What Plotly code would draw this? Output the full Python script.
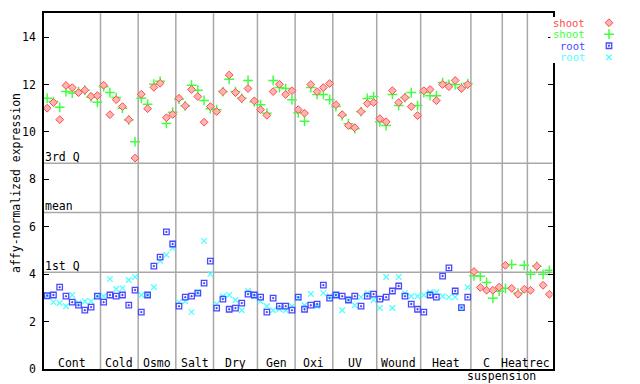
import plotly.graph_objects as go

# ---- data ----
groups = ["Cont", "Cold", "Osmo", "Salt", "Dry", "Gen", "Oxi", "UV", "Wound", "Heat", "C", "Heat", "rec"]
group_sizes = [9, 6, 6, 6, 7, 6, 6, 7, 7, 8, 5, 4, 4]
sub_label = "suspension"

shoot_red = [11.0, 11.24, 10.52, 11.96, 11.87, 11.66, 11.76, 11.5, 11.53,
             11.97, 10.73, 11.36, 11.07, 10.52, 8.9,
             11.59, 10.98, 11.88, 12.05, 10.6, 10.74,
             11.42, 11.1, 11.79, 11.49, 10.41, 11.07,
             10.86, 11.7, 12.4, 11.66, 11.41, 11.83, 11.31,
             10.94, 10.7, 11.7, 12.01, 11.58, 11.74,
             10.94, 10.79, 12.0, 11.7, 11.87, 12.04,
             11.15, 10.73, 10.27, 10.18, 10.86, 11.2, 11.24,
             10.56, 10.43, 11.74, 11.24, 11.45, 11.07, 10.69,
             11.74, 11.79, 11.32, 12.0, 11.91, 12.17, 11.83, 12.0,
             4.12, 3.45, 3.33, 3.33, 3.46,
             4.38, 3.41, 3.16, 3.37,
             3.33, 4.34, 3.54, 3.16]

shoot_green = [11.42, 11.28, 11.04, 11.7, 11.64, 11.7, 11.76, 11.46, 11.25,
               11.91, 11.66, 11.45, 11.0, 10.5, 9.59,
               11.42, 11.17, 12.01, 12.14, 10.36, 10.83,
               11.38, 11.1, 11.97, 11.76, 11.33, 10.98,
               10.94, 11.7, 12.22, 11.7, 11.42, 12.17, 11.27,
               11.15, 10.79, 12.17, 11.87, 11.83, 11.36,
               10.81, 10.45, 11.87, 11.58, 11.58, 11.36,
               11.07, 10.69, 10.35, 10.14, 10.86, 11.41, 11.49,
               10.43, 10.27, 11.58, 11.11, 11.45, 11.66, 11.11,
               11.66, 11.53, 11.53, 12.08, 12.0, 12.0, 11.87, 12.04,
               3.94, 3.92, 3.66, 2.99, 3.29,
               3.41, 4.42, 3.21, 4.38,
               4.0, 4.34, 4.0, 4.17]

root_blue = [3.10, 3.13, 3.46, 3.08, 2.83, 2.70, 2.49, 2.62, 3.08,
             2.83, 3.13, 3.08, 3.13, 2.70, 3.34,
             2.41, 3.13, 4.35, 4.73, 5.79, 5.28,
             2.66, 3.04, 3.08, 3.21, 3.63, 4.56,
             2.58, 2.96, 2.53, 2.58, 2.79, 3.17, 3.13,
             3.04, 2.41, 3.0, 2.66, 2.66, 2.49,
             3.04, 2.53, 2.70, 2.75, 3.55, 3.0,
             3.13, 3.08, 2.92, 3.08, 2.66, 3.08, 3.17,
             2.96, 3.04, 3.30, 3.51, 3.08, 2.75, 2.53,
             2.41, 3.13, 3.04, 3.93, 4.27, 3.30, 2.60, 3.04]

root_cyan = [3.13, 2.83, 2.79, 2.66, 3.13, 2.79, 2.87, 2.87, 3.08,
             3.08, 3.80, 3.38, 3.42, 3.76, 3.89,
             3.13, 3.13, 3.46, 4.56, 4.82, 5.11,
             2.83, 2.87, 2.41, 3.25, 5.41, 4.01,
             2.75, 3.08, 3.13, 2.92, 2.49, 3.30, 3.08,
             2.87, 2.66, 2.49, 2.53, 2.49, 2.66,
             3.0, 2.70, 3.17, 2.66, 3.21, 3.08,
             3.13, 2.49, 2.92, 2.70, 3.04, 3.21, 2.92,
             2.58, 3.89, 2.58, 3.89, 3.21, 3.08, 3.08,
             3.13, 3.25, 3.25, 3.08, 3.04, 3.04, 2.60, 3.46]

ref_names = ["3rd Q", "mean", "1st Q"]
ref_values = [8.68, 6.61, 4.09]

y_ticks = [0, 2, 4, 6, 8, 10, 12, 14]

series_names = ["shoot", "shoot", "root", "root"]
series_colors = ["#ff4a4a", "#40ff40", "#4848ff", "#50ffff"]

# ---- figure ----
FONT = "DejaVu Sans Mono"
OFF = 8  # default page body margin in the browser
W, H = 640 - OFF, 384 - OFF
px0, px1, py_top, py_bot = 44 - OFF, 552.5 - OFF, 13.3 - OFF, 369.3 - OFF

n = sum(group_sizes)
xs_shoot = [i + 0.5 for i in range(len(shoot_red))]
xs_root = [i + 0.5 for i in range(len(root_blue))]

fig = go.Figure()

marker_styles = [
    dict(symbol="diamond", size=6, color="#ffb4b4", line=dict(color=series_colors[0], width=1)),
    dict(symbol="cross-thin", size=7, color=series_colors[1], line=dict(color=series_colors[1], width=1.5)),
    dict(symbol="square-open-dot", size=5.5, color=series_colors[2], line=dict(color=series_colors[2], width=1.3)),
    dict(symbol="x-thin", size=5.5, color=series_colors[3], line=dict(color=series_colors[3], width=1.3)),
]
series_vals = [shoot_red, shoot_green, root_blue, root_cyan]
series_x = [xs_shoot, xs_shoot, xs_root, xs_root]

for k in [3, 2, 1, 0]:
    fig.add_trace(go.Scatter(x=series_x[k], y=series_vals[k], mode="markers",
                             marker=marker_styles[k], showlegend=False,
                             hoverinfo="skip", xaxis="x", yaxis="y"))

lx0 = 550.4 - OFF
for k in range(4):
    fig.add_trace(go.Scatter(x=[0.654], y=[3.5 - k], mode="markers",
                             marker=marker_styles[k], showlegend=False,
                             hoverinfo="skip", xaxis="x2", yaxis="y2"))

shapes = []
cum = 0
for s in group_sizes[:-1]:
    cum += s
    shapes.append(dict(type="line", xref="x", yref="y domain", x0=cum, x1=cum, y0=0, y1=1,
                       line=dict(color="#a8a8a8", width=1.5), layer="below"))
for v in ref_values:
    shapes.append(dict(type="line", xref="x domain", yref="y", x0=0, x1=1, y0=v, y1=v,
                       line=dict(color="#a8a8a8", width=1.5), layer="below"))

annotations = []
for name, v in zip(ref_names, ref_values):
    annotations.append(dict(x=0, xref="x domain", y=v, yref="y", text=name, showarrow=False,
                            xanchor="left", yanchor="bottom", xshift=-1, yshift=-3,
                            font=dict(family=FONT, size=11.5, color="black")))
cum = 0
for g, s in zip(groups, group_sizes):
    center = cum + s / 2
    annotations.append(dict(x=center, xref="x", y=0, yref="y", text=g, showarrow=False,
                            xanchor="center", yanchor="bottom", yshift=-3,
                            font=dict(family=FONT, size=11.5, color="black")))
    if g == "C":
        annotations.append(dict(x=cum + s - 0.1, xref="x", y=0, yref="y", text=sub_label,
                                showarrow=False, xanchor="center", yanchor="top", yshift=1,
                                borderpad=0,
                                font=dict(family=FONT, size=11.5, color="black")))
    cum += s

for k in range(4):
    annotations.append(dict(x=0.40, xref="x2", y=3.5 - k, yref="y2", text=series_names[k],
                            showarrow=False, xanchor="right", yanchor="middle", borderpad=0,
                            font=dict(family=FONT, size=10.5, color=series_colors[k])))

annotations.append(dict(x=0, xref="paper", xanchor="left", y=1 - (183 - OFF) / H,
                        yref="paper", yanchor="middle", text="affy-normalized expression",
                        textangle=-90, showarrow=False, borderpad=0,
                        font=dict(family=FONT, size=11.5, color="black")))

fig.update_layout(
    width=W, height=H,
    margin=dict(l=0, r=0, t=0, b=0, pad=0, autoexpand=False),
    paper_bgcolor="white", plot_bgcolor="white",
    xaxis=dict(domain=[px0 / W, px1 / W], range=[0, n], showgrid=False, zeroline=False,
               showticklabels=False, ticks="", showline=True, linecolor="black",
               linewidth=1.5, mirror=True, fixedrange=True, automargin=False),
    yaxis=dict(domain=[1 - py_bot / H, 1 - py_top / H], range=[0, 15], tickvals=y_ticks,
               showgrid=False, zeroline=False, ticks="inside", ticklen=5, tickwidth=1.2,
               tickcolor="black", showline=True, linecolor="black", linewidth=1.5,
               mirror="ticks", ticklabelstandoff=4, automargin=False,
               tickfont=dict(family=FONT, size=11.5, color="black"), fixedrange=True),
    xaxis2=dict(domain=[lx0 / W, 1.0], range=[0, 1], visible=False, anchor="y2",
                fixedrange=True, automargin=False),
    yaxis2=dict(domain=[1 - (63 - OFF) / H, 1 - (17 - OFF) / H], range=[0, 4], visible=False,
                anchor="x2", fixedrange=True, automargin=False),
    shapes=shapes,
    annotations=annotations,
    showlegend=False,
)

fig.write_html("out.html")
